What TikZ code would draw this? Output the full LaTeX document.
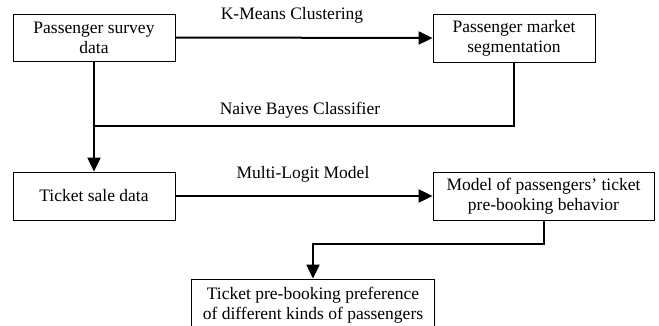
\documentclass[tikz,border=0pt]{standalone}
\usepackage{fontspec}
\setmainfont{Liberation Serif}
\usetikzlibrary{arrows.meta,shadows}
\begin{document}
\begin{tikzpicture}[x=1pt,y=-1pt,
  box/.style={draw=black,line width=0.8pt,fill=white,align=center,inner sep=0pt,
    font=\fontsize{17.5}{20}\selectfont,
    drop shadow={opacity=0.12,shadow xshift=1pt,shadow yshift=-1pt}},
  lab/.style={font=\fontsize{17.5}{20}\selectfont,inner sep=0pt},
  conn/.style={line width=2pt},
  arr/.style={conn,-{Triangle[length=14pt,width=13pt]}}]
\useasboundingbox (0,0) rectangle (659,325);
\node[box,minimum width=162pt,minimum height=47pt] (b1) at (94,37.5) {Passenger survey\\data};
\node[box,minimum width=162pt,minimum height=48pt] (b2) at (514,38) {Passenger market\\segmentation};
\node[box,minimum width=162pt,minimum height=48pt] (b3) at (94,196) {Ticket sale data};
\node[box,minimum width=221pt,minimum height=48pt] (b4) at (543.5,196) {Model of passengers’ ticket\\pre-booking behavior};
\node[box,minimum width=243pt,minimum height=52pt] (b5) at (313,305) {Ticket pre-booking preference\\of different kinds of passengers};
\node[lab] (l1) at (292,15) {K-Means Clustering};
\node[lab] (l2) at (300,110) {Naive Bayes Classifier};
\node[lab] (l3) at (303,174) {Multi-Logit Model};
\coordinate (nb) at (b1.south |- 0,126);
\coordinate (mb) at (b4.south |- 0,244);
\draw[arr] (b1.east) -- (b2.west);
\draw[conn] (b2.south) |- (nb);
\draw[arr] (b1.south) -- (b3.north);
\draw[arr] (b3.east) -- (b4.west);
\draw[arr] (b4.south) -- (mb) -| (b5.north);
\end{tikzpicture}
\end{document}
